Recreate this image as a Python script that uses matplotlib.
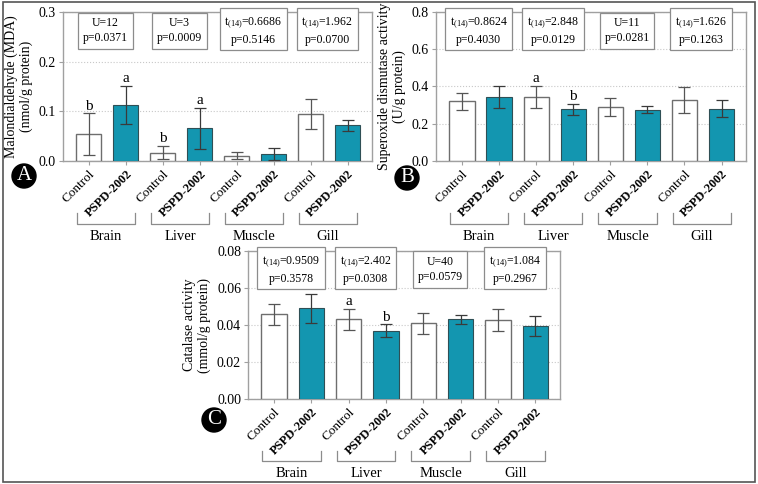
import numpy as np
import matplotlib.pyplot as plt
import matplotlib.transforms as mtransforms
from matplotlib.patches import Rectangle

plt.rcParams['font.family'] = ['Liberation Serif', 'DejaVu Serif']
plt.rcParams['mathtext.fontset'] = 'custom'
plt.rcParams['mathtext.rm'] = 'Liberation Serif'
plt.rcParams['mathtext.it'] = 'Liberation Serif:italic'

tissues = ['Brain', 'Liver', 'Muscle', 'Gill']
treat = ['Control', 'PSPD-2002']

# panel A: MDA
mda_ctrl = [0.054, 0.017, 0.011, 0.095]
mda_ctrl_err = [0.042, 0.014, 0.008, 0.030]
mda_pspd = [0.113, 0.066, 0.014, 0.072]
mda_pspd_err = [0.038, 0.041, 0.012, 0.011]
mda_stats = ['U=12\np=0.0371', 'U=3\np=0.0009',
             't$_{\\mathrm{(14)}}$=0.6686\np=0.5146', 't$_{\\mathrm{(14)}}$=1.962\np=0.0700']
mda_letters = [('b', 'a'), ('b', 'a'), ('', ''), ('', '')]

# panel B: SOD
sod_ctrl = [0.321, 0.344, 0.292, 0.326]
sod_ctrl_err = [0.046, 0.058, 0.048, 0.069]
sod_pspd = [0.344, 0.277, 0.276, 0.280]
sod_pspd_err = [0.061, 0.028, 0.019, 0.046]
sod_stats = ['t$_{\\mathrm{(14)}}$=0.8624\np=0.4030', 't$_{\\mathrm{(14)}}$=2.848\np=0.0129',
             'U=11\np=0.0281', 't$_{\\mathrm{(14)}}$=1.626\np=0.1263']
sod_letters = [('', ''), ('a', 'b'), ('', ''), ('', '')]

# panel C: CAT
cat_ctrl = [0.0457, 0.0430, 0.0409, 0.0425]
cat_ctrl_err = [0.0055, 0.0058, 0.0055, 0.0060]
cat_pspd = [0.0490, 0.0370, 0.0430, 0.0395]
cat_pspd_err = [0.0078, 0.0034, 0.0023, 0.0055]
cat_stats = ['t$_{\\mathrm{(14)}}$=0.9509\np=0.3578', 't$_{\\mathrm{(14)}}$=2.402\np=0.0308',
             'U=40\np=0.0579', 't$_{\\mathrm{(14)}}$=1.084\np=0.2967']
cat_letters = [('', ''), ('a', 'b'), ('', ''), ('', '')]

TEAL = '#1396b0'
GREY = '#8c8c8c'


def panel(fig, rect, ctrl, ctrl_err, pspd, pspd_err, stats, letters,
          ylim, yticks, yfmt, ylabel):
    ax = fig.add_axes(rect)
    n = len(tissues)
    xc = np.arange(n) * 2
    xp = xc + 1
    ax.bar(xc, ctrl, width=0.68, color='white', edgecolor='#6e6e6e', linewidth=1.0, zorder=3)
    ax.bar(xp, pspd, width=0.68, color=TEAL, edgecolor='#2f4f55', linewidth=0.8, zorder=3)
    ax.errorbar(xc, ctrl, yerr=ctrl_err, fmt='none', ecolor='#555555',
                elinewidth=0.9, capsize=4.5, capthick=0.9, zorder=4)
    ax.errorbar(xp, pspd, yerr=pspd_err, fmt='none', ecolor='#3a3a3a',
                elinewidth=0.9, capsize=4.5, capthick=0.9, zorder=4)
    ymax = ylim[1]
    for i in range(n):
        la, lb = letters[i]
        if la:
            ax.text(xc[i], ctrl[i] + ctrl_err[i] + ymax * 0.005, la,
                    ha='center', va='bottom', fontsize=11)
        if lb:
            ax.text(xp[i], pspd[i] + pspd_err[i] + ymax * 0.005, lb,
                    ha='center', va='bottom', fontsize=11)
        ax.text(xc[i] + 0.45, ymax * 0.875, stats[i], ha='center', va='center',
                fontsize=8.5, linespacing=1.3, zorder=5,
                bbox=dict(boxstyle='square,pad=0.4', fc='white', ec=GREY, lw=0.9))

    ax.set_xlim(-0.7, 2 * n - 1 + 0.66)
    ax.set_ylim(*ylim)
    ax.set_yticks(yticks)
    ax.set_yticklabels([yfmt.format(v) for v in yticks], fontsize=10)
    ax.yaxis.grid(True, linestyle=':', color='#c8c8c8', linewidth=0.8)
    ax.set_axisbelow(True)
    for s in ax.spines.values():
        s.set_color('#a0a0a0')
        s.set_linewidth(1.0)
    ax.tick_params(axis='both', color='#a0a0a0', length=3, width=0.8, pad=2)

    ticks = []
    labels = []
    for i in range(n):
        ticks += [xc[i], xp[i]]
        labels += treat
    ax.set_xticks(ticks)
    ax.set_xticklabels(labels, rotation=45, ha='right', va='top',
                       rotation_mode='anchor', fontsize=9.5)
    for k, lab in enumerate(ax.get_xticklabels()):
        if k % 2 == 1:
            lab.set_fontweight('bold')
            lab.set_fontsize(9)
    ax.set_ylabel(ylabel, fontsize=10, linespacing=1.2, labelpad=4)

    # tissue brackets below the tick labels
    trans = mtransforms.blended_transform_factory(ax.transData, ax.transAxes)
    for i, t in enumerate(tissues):
        x0 = xc[i] - 0.32
        x1 = xc[i] + 1.25
        ax.plot([x0, x0, x1, x1], [-0.35, -0.42, -0.42, -0.35], transform=trans,
                color=GREY, lw=0.9, clip_on=False)
        ax.text((x0 + x1) / 2, -0.46, t, transform=trans, ha='center', va='top',
                fontsize=10.5)
    return ax


fig = plt.figure(figsize=(7.58, 4.84), dpi=100)

panel(fig, [0.0831, 0.6674, 0.4077, 0.3078], mda_ctrl, mda_ctrl_err, mda_pspd, mda_pspd_err,
      mda_stats, mda_letters, (0, 0.3), [0, 0.1, 0.2, 0.3], '{:.1f}',
      'Malondialdehyde (MDA)\n(nmol/g protein)')
panel(fig, [0.5752, 0.6674, 0.4090, 0.3078], sod_ctrl, sod_ctrl_err, sod_pspd, sod_pspd_err,
      sod_stats, sod_letters, (0, 0.8), [0, 0.2, 0.4, 0.6, 0.8], '{:.1f}',
      'Superoxide dismutase activity\n(U/g protein)')
panel(fig, [0.3272, 0.1756, 0.4116, 0.3058], cat_ctrl, cat_ctrl_err, cat_pspd, cat_pspd_err,
      cat_stats, cat_letters, (0, 0.08), [0, 0.02, 0.04, 0.06, 0.08], '{:.2f}',
      'Catalase activity\n(mmol/g protein)')

# panel tags: black discs with white letters
for tag, (px, py) in zip(['A', 'B', 'C'], [(24, 176), (407, 178), (214, 420)]):
    fx, fy = px / 758, 1 - py / 484
    fig.text(fx, fy, tag, ha='center', va='center', color='white', fontsize=15,
             bbox=dict(boxstyle='circle,pad=0.12', fc='black', ec='black'))

# outer frame
fig.patches.append(Rectangle((0.004, 0.004), 0.992, 0.992, transform=fig.transFigure,
                             fill=False, ec='#555555', lw=1.2))

fig.savefig('out.png', dpi=100)
